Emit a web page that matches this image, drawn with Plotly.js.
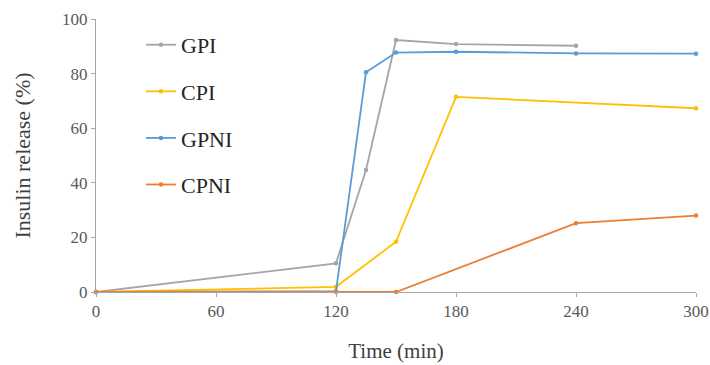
<!DOCTYPE html>
<html>
<head>
<meta charset="utf-8">
<script src="https://cdn.plot.ly/plotly-3.0.1.min.js"></script>
<style>html,body{margin:0;padding:0;background:#fff;}#chart{width:710px;height:365px;}</style>
</head>
<body>
<div id="chart"></div>
<script>
const seriesNames = ["GPI", "CPI", "GPNI", "CPNI"];
const gpiTime = [0, 120, 135, 150, 180, 240];
const gpiValues = [0, 10.5, 44.7, 92.3, 90.8, 90.2];
const cpiTime = [0, 120, 150, 180, 300];
const cpiValues = [0, 1.9, 18.4, 71.5, 67.3];
const gpniTime = [0, 120, 135, 150, 180, 240, 300];
const gpniValues = [0, 0.3, 80.5, 87.7, 88.0, 87.4, 87.3];
const cpniTime = [0, 120, 150, 240, 300];
const cpniValues = [0, 0, 0, 25.2, 28.0];
const xTicks = [0, 60, 120, 180, 240, 300];
const yTicks = [0, 20, 40, 60, 80, 100];

const colors = ["#a5a5a5", "#ffc000", "#5b9bd5", "#ed7d31"];
const xs = [gpiTime, cpiTime, gpniTime, cpniTime];
const ys = [gpiValues, cpiValues, gpniValues, cpniValues];

const traces = seriesNames.map((n, i) => ({
  type: "scatter",
  mode: "lines+markers",
  name: n,
  x: xs[i],
  y: ys[i],
  legendgroup: "g" + i,
  line: {color: colors[i], width: 1.8},
  marker: {color: colors[i], size: 4.5, symbol: "circle"},
  cliponaxis: false
}));

const serif = "Times New Roman";
const layout = {
  width: 710, height: 365,
  font: {family: serif, size: 17, color: "#595959"},
  margin: {l: 96, r: 14, t: 19, b: 73},
  paper_bgcolor: "#fff", plot_bgcolor: "#fff",
  showlegend: true,
  legend: {
    x: 0.075, y: 0.982, xanchor: "left", yanchor: "top",
    font: {family: serif, size: 22, color: "#262626"},
    traceorder: "grouped", tracegroupgap: 15,
    bgcolor: "rgba(0,0,0,0)"
  },
  xaxis: {
    range: [0, 300], tickvals: xTicks, ticktext: xTicks.map(String),
    showgrid: false, zeroline: false, showline: true, linecolor: "#a6a6a6", linewidth: 1,
    ticks: "outside", ticklen: 4, tickcolor: "#a6a6a6",
    tickfont: {family: serif, size: 17, color: "#595959"},
    title: {text: "Time (min)", font: {family: serif, size: 21, color: "#404040"}, standoff: 22}
  },
  yaxis: {
    range: [0, 100], tickvals: yTicks, ticktext: yTicks.map(String),
    showgrid: false, zeroline: false, showline: true, linecolor: "#a6a6a6", linewidth: 1,
    ticks: "outside", ticklen: 4, tickcolor: "#a6a6a6",
    tickfont: {family: serif, size: 17, color: "#595959"},
    title: {text: "Insulin release (%)", font: {family: serif, size: 22, color: "#404040"}, standoff: 25}
  }
};

Plotly.newPlot("chart", traces, layout, {staticPlot: true, displayModeBar: false});
</script>
</body>
</html>
